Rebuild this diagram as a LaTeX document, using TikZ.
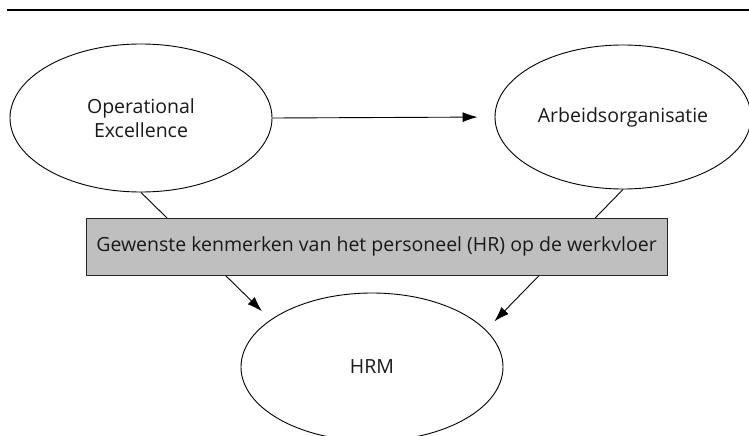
\documentclass[tikz,border=0pt]{standalone}
\usepackage{fontspec}
\setmainfont{Open Sans}
\usetikzlibrary{shapes.geometric,arrows.meta}
\begin{document}
\begin{tikzpicture}[x=1pt,y=-1pt,
  every node/.style={font=\fontsize{19.5}{24}\selectfont, text=black!90},
  oval/.style={ellipse, draw=black, line width=0.9pt, inner sep=0pt, align=center},
  hrbox/.style={rectangle, draw=black!85, line width=0.9pt, fill=black!25, inner sep=0pt,
    minimum width=581pt, minimum height=57pt},
  arr/.style={draw=black, line width=0.9pt, -{Latex[length=15pt,width=10pt]}},
  ln/.style={draw=black, line width=0.9pt}]
\useasboundingbox (0,0) rectangle (749,436);
\clip (0,0) rectangle (749,436);
\draw[line width=1.8pt] (7,10) coordinate (tl) -- (749,10) coordinate (tr);
\node[oval, minimum width=262pt, minimum height=148pt] (oe) at (141,118) {Operational\\Excellence};
\node[oval, minimum width=256pt, minimum height=144pt] (ao) at (623,117) {Arbeidsorganisatie};
\node[oval, minimum width=262pt, minimum height=148pt] (hrm) at (372,367) {HRM};
\draw[arr, shorten >=17pt] (oe.east) -- (ao.west);
\draw[arr, shorten >=12pt] (oe.south) -- (hrm.155);
\draw[arr, shorten >=12pt] (ao.south) -- (hrm.18);
\node[hrbox] (hr) at (376.5,246.5) {Gewenste kenmerken van het personeel (HR) op de werkvloer};
\end{tikzpicture}
\end{document}
